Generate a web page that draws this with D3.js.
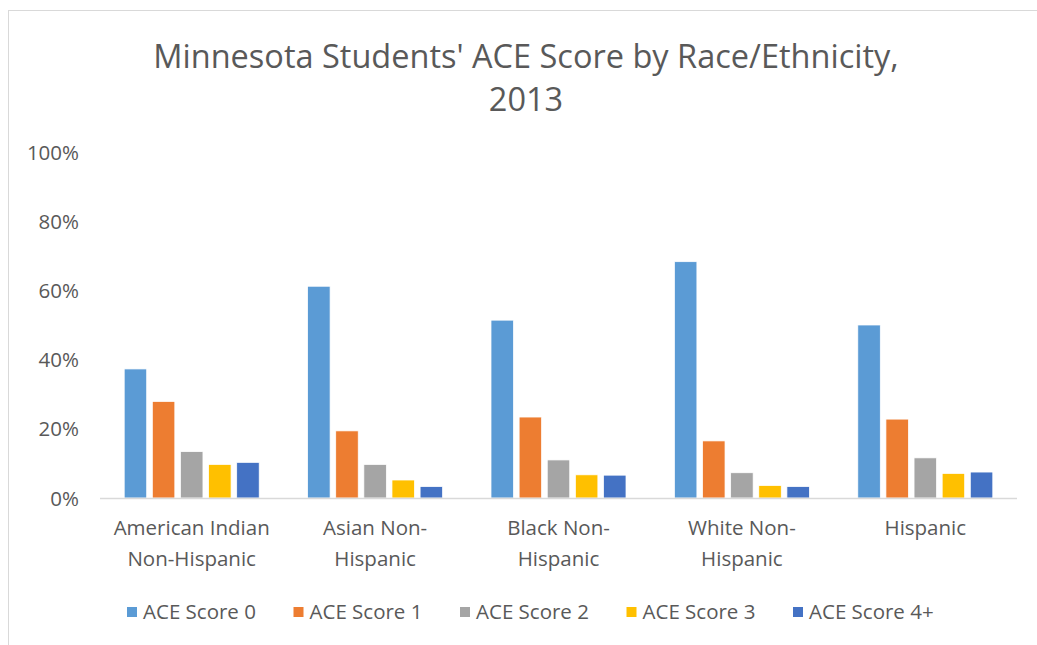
<!DOCTYPE html>
<html>
<head>
<meta charset="utf-8">
<script src="https://cdn.jsdelivr.net/npm/d3@7"></script>
<style>
  body { margin: 0; background: #fff; }
  text { font-family: "Open Sans", "Noto Sans", sans-serif; fill: #595959; }
</style>
</head>
<body>
<script>
// data
var categories = [["American Indian", "Non-Hispanic"], ["Asian Non-", "Hispanic"], ["Black Non-", "Hispanic"], ["White Non-", "Hispanic"], ["Hispanic"]]
var series = ["ACE Score 0", "ACE Score 1", "ACE Score 2", "ACE Score 3", "ACE Score 4+"]
var score0 = [0.373, 0.612, 0.514, 0.683, 0.500]
var score1 = [0.279, 0.194, 0.234, 0.165, 0.228]
var score2 = [0.134, 0.097, 0.110, 0.073, 0.116]
var score3 = [0.097, 0.052, 0.067, 0.036, 0.071]
var score4 = [0.103, 0.033, 0.066, 0.033, 0.075]
var yTicks = [0, 0.2, 0.4, 0.6, 0.8, 1]
var colors = ["#5B9BD5", "#ED7D31", "#A5A5A5", "#FFC000", "#4472C4"]

var values = [score0, score1, score2, score3, score4]
var catKeys = categories.map(function(c) { return c.join(" "); })

var width = 1037, height = 645

var svg = d3.select("body").append("svg")
    .attr("width", width)
    .attr("height", height)

// chart frame
svg.append("rect")
    .attr("x", 8.5).attr("y", 10.5)
    .attr("width", 1100).attr("height", 700)
    .attr("fill", "none")
    .attr("stroke", "#D9D9D9")

var x0 = d3.scaleBand()
    .domain(catKeys)
    .range([100, 1017])

var inner = 24.2
var x1 = d3.scaleBand()
    .domain(series)
    .range([inner, x0.bandwidth() - inner])
    .paddingInner(0.2)

var y = d3.scaleLinear()
    .domain([0, 1])
    .range([498, 152])

// title
var title = svg.append("text")
    .attr("text-anchor", "middle")
    .style("font-size", "32.5px")
title.append("tspan").attr("x", 526).attr("y", 68).text("Minnesota Students' ACE Score by Race/Ethnicity,")
title.append("tspan").attr("x", 526).attr("y", 111).text("2013")

// y axis labels
var yAxis = d3.axisLeft(y)
    .tickValues(yTicks)
    .tickFormat(d3.format(".0%"))
    .tickSize(0)
    .tickPadding(0)

svg.append("g")
    .attr("transform", "translate(79,0)")
    .call(yAxis)
    .call(function(g) { g.select(".domain").remove(); })
    .selectAll("text")
    .style("font-size", "20.5px")
    .attr("fill", "#595959")
    .attr("dy", "0.35em")

// bars
var groups = svg.selectAll(".group")
    .data(catKeys)
  .enter().append("g")
    .attr("class", "group")
    .attr("transform", function(d) { return "translate(" + x0(d) + ",0)"; })

groups.selectAll("rect")
    .data(function(d, i) {
      return series.map(function(s, j) { return {series: s, value: values[j][i], color: colors[j]}; });
    })
  .enter().append("rect")
    .attr("x", function(d) { return x1(d.series); })
    .attr("width", x1.bandwidth())
    .attr("y", function(d) { return y(d.value); })
    .attr("height", function(d) { return y(0) - y(d.value); })
    .attr("fill", function(d) { return d.color; })
    .attr("stroke", "#fff")
    .attr("stroke-width", 0.75)

// baseline
svg.append("line")
    .attr("x1", 100).attr("x2", 1017)
    .attr("y1", y(0) + 0.5).attr("y2", y(0) + 0.5)
    .attr("stroke", "#D9D9D9")
    .attr("stroke-width", 1.5)

// category labels
var catLabels = svg.selectAll(".cat")
    .data(categories)
  .enter().append("text")
    .attr("class", "cat")
    .attr("text-anchor", "middle")
    .style("font-size", "20.5px")

catLabels.selectAll("tspan")
    .data(function(d, i) { return d.map(function(t) { return {t: t, i: i}; }); })
  .enter().append("tspan")
    .attr("x", function(d) { return x0(catKeys[d.i]) + x0.bandwidth() / 2; })
    .attr("y", function(d, k) { return 535 + k * 31; })
    .text(function(d) { return d.t; })

// legend
var legend = svg.selectAll(".legend")
    .data(series)
  .enter().append("g")
    .attr("class", "legend")
    .attr("transform", function(d, i) { return "translate(" + (127 + i * 166.5) + ",612)"; })

legend.append("rect")
    .attr("x", 0).attr("y", -5)
    .attr("width", 10).attr("height", 10)
    .attr("fill", function(d, i) { return colors[i]; })

legend.append("text")
    .attr("x", 16)
    .attr("dy", "0.35em")
    .style("font-size", "20.5px")
    .text(function(d) { return d; })
</script>
</body>
</html>
